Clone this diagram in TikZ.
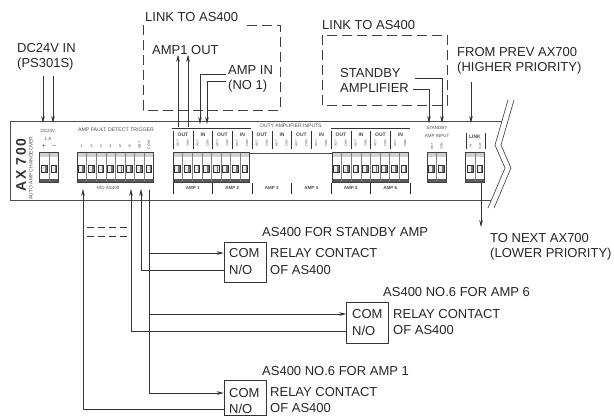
\documentclass[tikz,border=0pt]{standalone}
\usepackage{fontspec}
\setmainfont{Liberation Sans}
\usetikzlibrary{arrows.meta}

% one row of screw terminals: left edge, number of terminals
\newcommand{\termblock}[2]{%
    \pgfmathsetmacro{\tbright}{#1+9.6*#2}
    \fill[black!18] (#1,152) rectangle (\tbright,157);
    \fill[black!65] (#1,178.5) rectangle (\tbright,182);
    \foreach \k in {1,...,#2} {
        \pgfmathsetmacro{\tx}{#1+9.6*(\k-1)}
        \draw[black!50, line width=0.4pt] (\tx,152) -- (\tx,182);
        \draw[black!80, line width=0.9pt, fill=black!8] (\tx+1.9,165) rectangle (\tx+7.7,172.5);
        \fill[black!55] (\tx+5.4,166) rectangle (\tx+7,171.5);
    }
    \draw[black!75, line width=0.8pt] (#1,152) rectangle (\tbright,182);
}

\begin{document}
\begin{tikzpicture}[x=1pt,y=-1pt]
    \tikzstyle{lbl}=[font=\fontsize{13}{15}\selectfont, inner sep=0pt, anchor=west, text=black!85]
    \tikzstyle{tiny}=[font=\fontsize{4.5}{5}\selectfont, inner sep=0pt, text=black!70]
    \tikzstyle{wire}=[draw=black!80, line width=0.6pt]
    \tikzstyle{feed}=[-{Stealth[length=7pt,width=3.6pt]}]
    \tikzstyle{dashbox}=[draw=black!75, line width=0.6pt, dash pattern=on 10pt off 5pt]
    \tikzstyle{relay}=[draw=black!80, line width=0.6pt, minimum width=42pt, inner sep=0pt]

    \useasboundingbox (0,0) rectangle (614,416);

    % front panel with break
    \draw[black!70, line width=0.8pt] (502,121) -- (10,121) -- (10,200) -- (491,200);
    \draw[black!70, line width=0.7pt] (508,100) -- (495,145) -- (505,168) -- (488,208)
                                      (514,100) -- (501,145) -- (511,168) -- (494,208);

    \node[rotate=90, font=\fontsize{14}{14}\selectfont\bfseries\addfontfeature{LetterSpace=12}, text=black!80] (ax) at (21,165) {AX 700};
    \node[tiny, rotate=90, font=\fontsize{5}{5}\selectfont] (changeover) at (31,168) {AUTO AMP CHANGEOVER};

    % DC input
    \node[tiny] (dcv) at (48,131) {DC24V};
    \node[tiny] (dca) at (48,139) {1 A};
    \node[tiny, font=\fontsize{7}{7}\selectfont] (plus) at (44,146) {+};
    \node[tiny, font=\fontsize{7}{7}\selectfont] (minus) at (54,146) {–};
    \termblock{39.5}{2}

    % fault detect trigger
    \node[tiny, font=\fontsize{5.2}{6}\selectfont] (trigger) at (116,130) {AMP FAULT DETECT TRIGGER};
    \foreach \n in {1,...,6}
        \node[tiny, font=\fontsize{4}{4}\selectfont] (trig\n) at (72.2+9.6*\n,146) {\n};
    \node[tiny, rotate=90, font=\fontsize{3.5}{4}\selectfont] (trigsby) at (139.4,145) {SBY};
    \node[tiny, rotate=90, font=\fontsize{3.5}{4}\selectfont] (trigcom) at (149,145) {COM};
    \termblock{77}{8}
    \node[tiny] (noas) at (108,188) {N/O AS400};

    % duty amplifier inputs
    \node[tiny, font=\fontsize{5}{5}\selectfont] (duty) at (291,126) {DUTY AMPLIFIER INPUTS};
    \draw[black!80, line width=0.9pt] (172,128) -- (251,128) (331,128) -- (410,128);
    \foreach \i in {1,...,6} {
        \pgfmathsetmacro{\ax}{173+39.5*(\i-1)}
        \node[tiny, font=\fontsize{5}{5}\selectfont\bfseries] (out\i) at (\ax+10,135) {OUT};
        \node[tiny, font=\fontsize{5}{5}\selectfont\bfseries] (in\i) at (\ax+30,135) {IN};
        \draw[black!80, line width=0.8pt] (\ax,131) -- (\ax,149) (\ax+20,131) -- (\ax+20,149);
        \foreach \j/\lab in {0/HOT,1/COM,2/HOT,3/COM}
            \node[tiny, rotate=90, font=\fontsize{3}{3}\selectfont] (hc\i\j) at (\ax+4.9+9.9*\j,143) {\lab};
        \node[tiny, font=\fontsize{4.5}{5}\selectfont\bfseries] (amp\i) at (\ax+19.75,188) {AMP \i};
        \draw[black!85, line width=1pt] (\ax,183) -- (\ax,194);
    }
    \draw[black!85, line width=1pt] (410,183) -- (410,194);
    \termblock{173}{8}
    \draw[black!70, line width=0.9pt] (250,153) -- (332,153);
    \termblock{332}{8}

    % standby amp input
    \node[tiny] (sbylbl) at (437,128) {STANDBY};
    \node[tiny] (sbyinput) at (437,136) {AMP INPUT};
    \node[tiny, rotate=90, font=\fontsize{3}{3}\selectfont] (sbyhot) at (432,146) {HOT};
    \node[tiny, rotate=90, font=\fontsize{3}{3}\selectfont] (sbycomlbl) at (441.5,146) {COM};
    \termblock{427}{2}

    % link
    \node[tiny, font=\fontsize{5}{5}\selectfont\bfseries] (linklbl) at (475,137) {LINK};
    \draw[black!80, line width=0.8pt] (466,133) -- (466,149) (485,133) -- (485,149);
    \node[tiny, rotate=90, font=\fontsize{3}{3}\selectfont] (linkinlbl) at (470.5,146) {IN};
    \node[tiny, rotate=90, font=\fontsize{3}{3}\selectfont] (linkoutlbl) at (480,146) {OUT};
    \termblock{465.5}{2}

    % power
    \node[lbl] (dcin) at (17,48) {DC24V IN};
    \node[lbl] (ps) at (17,64) {(PS301S)};
    \coordinate (dcw1) at (43,76);
    \coordinate (dcw2) at (53,76);
    \coordinate (dcp) at (43,123);
    \coordinate (dcm) at (53,123);
    \draw[wire,feed] (dcw1) -- (dcp);
    \draw[wire,feed] (dcw2) -- (dcm);

    % link to AS400 (amp 1)
    \draw[dashbox] (247,25) -- (280,25) -- (280,110) -- (143,110) -- (143,25);
    \node[lbl] (linkleft) at (145,17) {LINK TO AS400};
    \node[lbl] (amp1out) at (152,50) {AMP1 OUT};
    \node[lbl] (ampin) at (228,70) {AMP IN};
    \node[lbl] (no1) at (228,86) {(NO 1)};
    \coordinate (o1) at (178,127);
    \coordinate (o2) at (188,127);
    \draw[wire,feed] (o1) -- (o1 |- amp1out.south);
    \draw[wire,feed] (o2) -- (o2 |- amp1out.south);
    \coordinate (ampinw) at (226,74);
    \coordinate (no1w) at (226,81);
    \coordinate (i1) at (200,124);
    \coordinate (i2) at (207,124);
    \draw[wire,feed] (ampinw) -| (i1);
    \draw[wire,feed] (no1w) -| (i2);

    % link to AS400 (standby)
    \draw[dashbox] (322,35) rectangle (447,105);
    \node[lbl] (linkright) at (322,25) {LINK TO AS400};
    \node[lbl] (standby) at (340,73) {STANDBY};
    \node[lbl] (amplifier) at (340,88) {AMPLIFIER};
    \coordinate (sbyw1) at (415,78);
    \coordinate (sbyw2) at (413,89);
    \coordinate (s1) at (429,123);
    \coordinate (s2) at (442,123);
    \draw[wire,feed] (sbyw1) -| (s2);
    \draw[wire,feed] (sbyw2) -| (s1);

    % previous / next unit
    \node[lbl] (prev) at (457,52) {FROM PREV AX700};
    \node[lbl] (higher) at (457,68) {(HIGHER PRIORITY)};
    \coordinate (prevw) at (471,82);
    \coordinate (linkin) at (471,123);
    \draw[wire,feed] (prevw) -- (linkin);
    \node[lbl] (next) at (490,238) {TO NEXT AX700};
    \node[lbl] (lower) at (490,254) {(LOWER PRIORITY)};
    \coordinate (linkout) at (481,183);
    \coordinate (nextw) at (481,227);
    \draw[wire,feed] (linkout) -- (nextw);

    % relay contacts
    \node[relay, minimum height=40pt] (sbybox) at (245,262) {};
    \node[lbl] (sbycom) at (229,253) {COM};
    \node[lbl] (sbyno) at (229,270) {N/O};
    \node[lbl] (sbyrelay) at (270,253) {RELAY CONTACT};
    \node[lbl] (sbyof) at (270,270) {OF AS400};
    \node[lbl] (sbytitle) at (262,232) {AS400 FOR STANDBY AMP};

    \node[relay, minimum height=41pt] (amp6box) at (367.5,322.5) {};
    \node[lbl] (amp6com) at (352,314) {COM};
    \node[lbl] (amp6no) at (352,331) {N/O};
    \node[lbl] (amp6relay) at (393,314) {RELAY CONTACT};
    \node[lbl] (amp6of) at (393,330) {OF AS400};
    \node[lbl] (amp6title) at (383,292) {AS400 NO.6 FOR AMP 6};

    \node[relay, minimum height=35pt] (amp1box) at (245,397.5) {};
    \node[lbl] (amp1com) at (229,393) {COM};
    \node[lbl] (amp1no) at (229,409) {N/O};
    \node[lbl] (amp1relay) at (270,392) {RELAY CONTACT};
    \node[lbl] (amp1of) at (270,408) {OF AS400};
    \node[lbl] (amp1title) at (262,371) {AS400 NO.6 FOR AMP 1};

    % trigger wiring
    \coordinate (t1) at (83,189);
    \coordinate (t6) at (131,189);
    \coordinate (tsby) at (141,189);
    \coordinate (tcom) at (149,190);
    \draw[wire,feed] (tcom) |- (sbybox.west |- sbycom);
    \draw[wire,feed] (tcom) |- (amp6box.west |- amp6com);
    \draw[wire,feed] (tcom) |- (amp1box.west |- amp1com);
    \draw[wire,feed] (sbybox.west |- sbyno) -| (tsby);
    \draw[wire,feed] (amp6box.west |- amp6no) -| (t6);
    \draw[wire,feed] (amp1box.west |- amp1no) -| (t1);
    \draw[wire, dash pattern=on 7pt off 4pt] (87,227) -- (130,227) (87,236) -- (130,236);
\end{tikzpicture}
\end{document}
